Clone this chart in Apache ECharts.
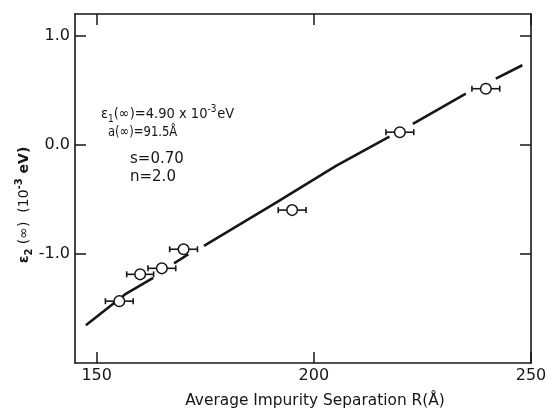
<!DOCTYPE html>
<html>
<head>
<meta charset="utf-8">
<script src="https://cdn.jsdelivr.net/npm/echarts@6/dist/echarts.min.js"></script>
<style>
  html, body { margin: 0; padding: 0; background: #fff; }
  #chart { width: 552px; height: 413px; }
</style>
</head>
<body>
<div id="chart"></div>
<script>
// Measured points: average impurity separation R (Å) vs ε2(∞) (10^-3 eV)
const separation    = [155.2, 160.0, 165.0, 170.0, 195.0, 219.8, 239.6];
const epsilon2      = [-1.433, -1.187, -1.132, -0.957, -0.598, 0.116, 0.515];
const separationErr = [3.2, 3.1, 3.2, 3.2, 3.2, 3.2, 3.2];

// Theoretical curve, drawn in pieces (null marks a break in the pen stroke)
const curveR   = [147.5, 156.5, 163.0, null, 167.8, 171.1, null, 174.7, 191.4, 205.2, 217.4, null, 222.8, 235.0, null, 241.9, 248.0];
const curveEps = [-1.654, -1.371, -1.219, null, -1.086, -1.003, null, -0.927, -0.528, -0.191, 0.076, null, 0.193, 0.469, null, 0.607, 0.730];

// Axis ticks
const xTicks = [150, 200, 250];
const yTicks = [-1.0, 0.0, 1.0];

const INK = '#161616';
const FONT = 'DejaVu Sans';

const curveData = curveR.map((r, i) => [r === null ? '-' : r, curveEps[i] === null ? '-' : curveEps[i]]);
const pointData = separation.map((r, i) => [r, epsilon2[i], separationErr[i]]);

function frameAxis(extra) {
  return Object.assign({
    type: 'value',
    axisLine: { show: true, onZero: false, lineStyle: { color: INK, width: 1.6 } },
    splitLine: { show: false },
  }, extra);
}

const chart = echarts.init(document.getElementById('chart'), null, { renderer: 'canvas' });

chart.setOption({
  animation: false,
  backgroundColor: '#fff',
  grid: { left: 75, right: 21, top: 14, bottom: 50 },
  xAxis: [
    frameAxis({
      min: 145, max: 250, position: 'bottom',
      axisTick: { show: true, inside: true, length: 11, customValues: xTicks, lineStyle: { color: INK, width: 1.5 } },
      axisLabel: {
        customValues: xTicks, margin: 5, color: INK, fontFamily: FONT, fontSize: 16,
        formatter: v => String(v)
      }
    }),
    frameAxis({
      min: 145, max: 250, position: 'top',
      axisTick: { show: true, inside: true, length: 11, customValues: xTicks, lineStyle: { color: INK, width: 1.5 } },
      axisLabel: { show: false }
    })
  ],
  yAxis: [
    frameAxis({
      min: -2, max: 1.2, position: 'left',
      axisTick: { show: true, inside: true, length: 11, customValues: yTicks, lineStyle: { color: INK, width: 1.5 } },
      axisLabel: {
        customValues: yTicks, margin: 5, color: INK, fontFamily: FONT, fontSize: 16,
        formatter: v => (v < 0 ? '-' : '') + Math.abs(v).toFixed(1)
      }
    }),
    frameAxis({
      min: -2, max: 1.2, position: 'right',
      axisTick: { show: true, inside: true, length: 11, customValues: yTicks, lineStyle: { color: INK, width: 1.5 } },
      axisLabel: { show: false }
    })
  ],
  series: [
    {
      type: 'line',
      data: curveData,
      showSymbol: false,
      symbol: 'none',
      connectNulls: false,
      lineStyle: { color: INK, width: 2.6 },
      z: 2
    },
    {
      type: 'custom',
      data: pointData,
      z: 3,
      renderItem(params, api) {
        const r = api.value(0), e = api.value(1), err = api.value(2);
        const c = api.coord([r, e]);
        const lo = api.coord([r - err, e]);
        const hi = api.coord([r + err, e]);
        const st = { stroke: INK, lineWidth: 1.6 };
        return {
          type: 'group',
          children: [
            { type: 'line', shape: { x1: lo[0], y1: c[1], x2: hi[0], y2: c[1] }, style: st },
            { type: 'line', shape: { x1: lo[0], y1: c[1] - 3, x2: lo[0], y2: c[1] + 3 }, style: st },
            { type: 'line', shape: { x1: hi[0], y1: c[1] - 3, x2: hi[0], y2: c[1] + 3 }, style: st },
            { type: 'circle', shape: { cx: c[0], cy: c[1], r: 5.3 }, style: { fill: '#fff', stroke: INK, lineWidth: 1.5 } }
          ]
        };
      }
    }
  ],
  graphic: [
    {
      type: 'text', x: 101, y: 114, scaleX: 0.9,
      style: {
        text: '{t|ε}{sub|1}{t|(∞)=4.90 x 10}{sup|-3}{t|eV}',
        textVerticalAlign: 'middle', fill: INK,
        rich: {
          t: { fontFamily: FONT, fontSize: 14.5, fill: INK },
          sub: { fontFamily: FONT, fontSize: 10, fill: INK, verticalAlign: 'bottom', padding: [10, 0, 0, 0] },
          sup: { fontFamily: FONT, fontSize: 10, fill: INK, verticalAlign: 'top', padding: [0, 1, 8, 0] }
        }
      }
    },
    {
      type: 'text', x: 108, y: 132, scaleX: 0.8,
      style: { text: 'a(∞)=91.5Å', textVerticalAlign: 'middle', fill: INK, font: '14.5px "DejaVu Sans"' }
    },
    {
      type: 'text', x: 130, y: 159,
      style: { text: 's=0.70', textVerticalAlign: 'middle', fill: INK, font: '15px "DejaVu Sans"' }
    },
    {
      type: 'text', x: 130, y: 177,
      style: { text: 'n=2.0', textVerticalAlign: 'middle', fill: INK, font: '15px "DejaVu Sans"' }
    },
    {
      type: 'text', x: 315, y: 401,
      style: { text: 'Average Impurity Separation R(Å)', textAlign: 'center', textVerticalAlign: 'middle', fill: INK, font: '15.4px "DejaVu Sans"' }
    },
    {
      type: 'text', x: 24, y: 205, rotation: Math.PI / 2,
      style: {
        text: '{b|ε}{sub|2}{t| (∞)  (10}{sup|-3}{b| eV)}',
        textAlign: 'center', textVerticalAlign: 'middle', fill: INK,
        rich: {
          t: { fontFamily: FONT, fontSize: 14, fill: INK },
          b: { fontFamily: FONT, fontSize: 14, fontWeight: 'bold', fill: INK },
          sub: { fontFamily: FONT, fontSize: 10, fontWeight: 'bold', fill: INK, verticalAlign: 'bottom', padding: [10, 0, 0, 0] },
          sup: { fontFamily: FONT, fontSize: 10, fontWeight: 'bold', fill: INK, verticalAlign: 'top', padding: [0, 0, 8, 0] }
        }
      }
    }
  ]
});
</script>
</body>
</html>
